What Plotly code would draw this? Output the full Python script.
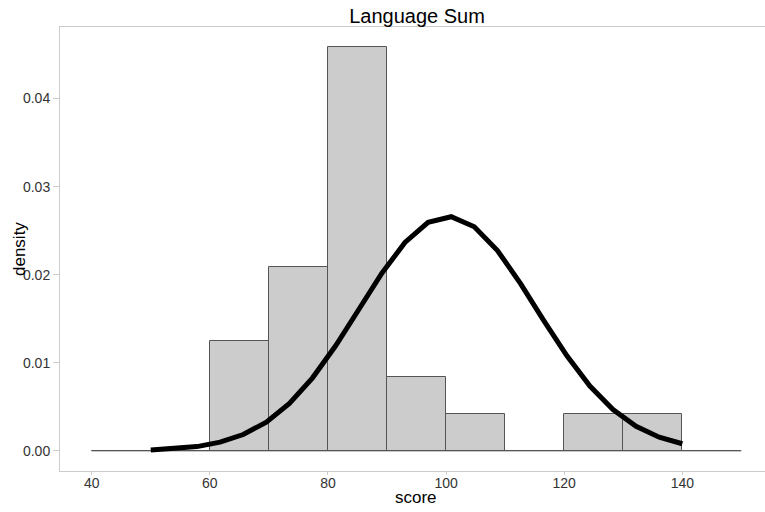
import plotly.graph_objects as go

# Histogram bins (edges) and densities
bin_edges = [40, 50, 60, 70, 80, 90, 100, 110, 120, 130, 140, 150]
bin_density = [0.0, 0.0, 0.0125, 0.02083, 0.04583, 0.00833, 0.00417, 0.0, 0.00417, 0.00417, 0.0]

# Normal density curve
curve_x = [50.0, 53.91, 57.83, 61.74, 65.65, 69.57, 73.48, 77.39, 81.30, 85.22, 89.13, 93.04,
           96.96, 100.87, 104.78, 108.70, 112.61, 116.52, 120.43, 124.35, 128.26, 132.17, 136.09, 140.0]
curve_y = [0.0001, 0.00022, 0.00048, 0.00098, 0.00185, 0.00326, 0.00538, 0.00829, 0.01193, 0.01605,
           0.02016, 0.02366, 0.02595, 0.02658, 0.02544, 0.02274, 0.01899, 0.01482, 0.01081, 0.00736,
           0.00468, 0.00278, 0.00154, 0.0008]

x_ticks = [40, 60, 80, 100, 120, 140]
y_ticks = [0.00, 0.01, 0.02, 0.03, 0.04]

centers = [(bin_edges[i] + bin_edges[i + 1]) / 2 for i in range(len(bin_density))]
widths = [bin_edges[i + 1] - bin_edges[i] for i in range(len(bin_density))]

fig = go.Figure()

# baseline of histogram (zero-height bins)
fig.add_trace(go.Scatter(
    x=[bin_edges[0], bin_edges[-1]], y=[0, 0], mode="lines",
    line=dict(color="#555555", width=1), hoverinfo="skip", showlegend=False))

fig.add_trace(go.Bar(
    x=centers, y=bin_density, width=widths,
    marker=dict(color="#cccccc", line=dict(color="#555555", width=1)),
    showlegend=False))

fig.add_trace(go.Scatter(
    x=curve_x, y=curve_y, mode="lines",
    line=dict(color="black", width=5), showlegend=False))

font_family = "Liberation Sans, Arial, sans-serif"

fig.update_layout(
    width=765, height=512,
    margin=dict(l=60, r=0, t=27, b=41),
    paper_bgcolor="white", plot_bgcolor="white",
    bargap=0,
    font=dict(family=font_family, color="#333333"),
    title=dict(text="Language Sum", x=(60 + 774) / 2 / 765, xanchor="center",
               yref="container", y=1 - 16 / 512, yanchor="middle",
               font=dict(size=20, color="black", family=font_family)),
    xaxis=dict(range=[34.63, 154.0], tickvals=x_ticks, ticktext=[str(v) for v in x_ticks],
               showgrid=False, zeroline=False, showline=True, linecolor="#cccccc", linewidth=1,
               mirror=True, ticks="outside", ticklen=3, tickcolor="#cccccc", automargin=False,
               ticklabelstandoff=-4,
               tickfont=dict(size=14, color="#333333")),
    yaxis=dict(range=[-0.00229, 0.04812], tickvals=y_ticks, ticktext=["%.2f" % v for v in y_ticks],
               showgrid=False, zeroline=False, showline=True, linecolor="#cccccc", linewidth=1,
               ticks="outside", ticklen=6, tickcolor="#cccccc", automargin=False,
               tickfont=dict(size=14, color="#333333")),
    annotations=[
        dict(text="score", xref="paper", yref="paper", x=(416 - 60) / 705, y=-(497 - 470.7) / 443.7,
             xanchor="center", yanchor="middle", showarrow=False,
             font=dict(size=17, color="black", family=font_family)),
        dict(text="density", xref="paper", yref="paper", x=-(60 - 19) / 705, y=0.5,
             xanchor="center", yanchor="middle", textangle=-90, showarrow=False,
             font=dict(size=17, color="black", family=font_family)),
    ],
)

fig.write_html("out.html", config={"displayModeBar": False},
               post_script="document.body.style.margin='0';document.body.style.overflow='hidden';")
